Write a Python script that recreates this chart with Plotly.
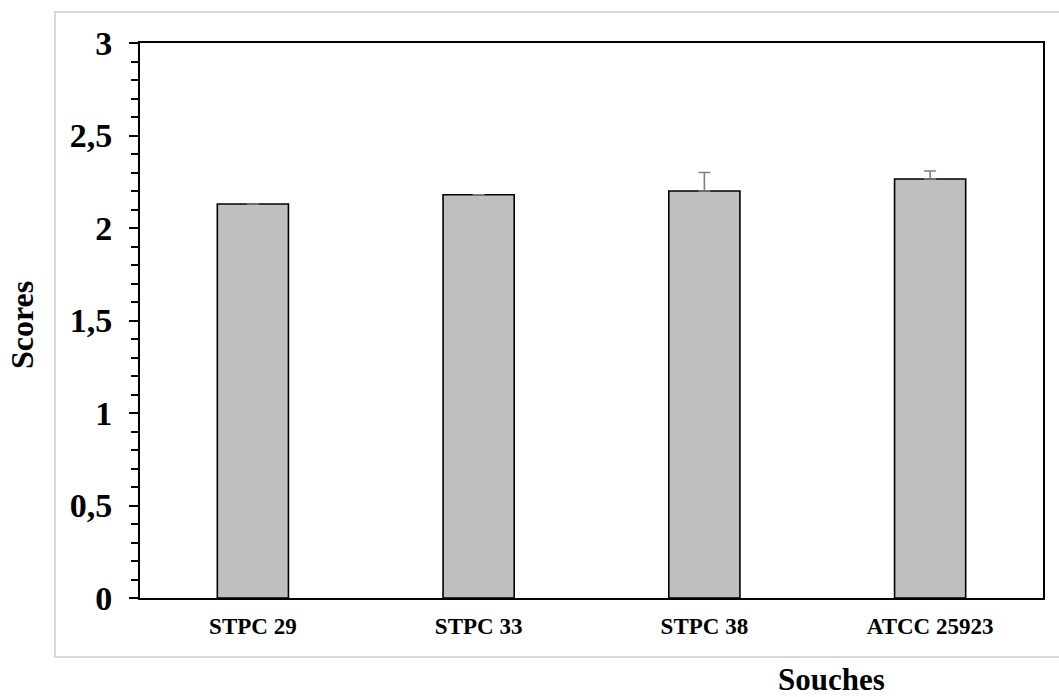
import plotly.graph_objects as go

categories = ["STPC 29", "STPC 33", "STPC 38", "ATCC 25923"]
scores = [2.13, 2.18, 2.20, 2.265]
errors_plus = [0.0, 0.0, 0.10, 0.043]
errors_minus = [0.0, 0.0, 0.0, 0.0]
ytick_vals = [0, 0.5, 1, 1.5, 2, 2.5, 3]
ytick_text = ["0", "0,5", "1", "1,5", "2", "2,5", "3"]

FONT = "Liberation Serif, Times New Roman, serif"

W, H = 1059, 697
L, R, T, B = 140, 16, 43, 99
pw, ph = W - L - R, H - T - B


def px(x):
    return (x - L) / pw


def py(y):
    return (H - B - y) / ph


fig = go.Figure()
fig.add_trace(go.Bar(
    x=categories,
    y=scores,
    marker=dict(color="#BFBFBF", line=dict(color="black", width=1.6)),
    error_y=dict(type="data", symmetric=False, array=errors_plus,
                 arrayminus=errors_minus, color="#7f7f7f", thickness=1.6, width=6),
))

fig.update_layout(
    width=W, height=H,
    margin=dict(l=L, r=R, t=T, b=B),
    plot_bgcolor="white", paper_bgcolor="white",
    bargap=0.685,
    showlegend=False,
    font=dict(family=FONT, color="black"),
    xaxis=dict(
        type="category", range=[-0.5, 3.5],
        showline=True, mirror=True, linecolor="black", linewidth=2,
        ticks="", showgrid=False, zeroline=False,
        tickfont=dict(family=FONT, size=23, weight="bold", color="black"),
        ticklabelstandoff=6,
    ),
    yaxis=dict(
        range=[0, 3], tickvals=ytick_vals, ticktext=ytick_text,
        showline=True, mirror=True, linecolor="black", linewidth=2,
        ticks="outside", ticklen=9, tickwidth=1.5, tickcolor="black",
        minor=dict(dtick=0.1, ticks="outside", ticklen=7, tickwidth=1.5, tickcolor="black", showgrid=False),
        showgrid=False, zeroline=False,
        tickfont=dict(family=FONT, size=34, weight="bold", color="black"),
        ticklabelstandoff=10,
    ),
    shapes=[dict(type="rect", xref="paper", yref="paper",
                 x0=px(55), x1=px(1064), y0=py(657), y1=py(12),
                 line=dict(color="#d9d9d9", width=2), fillcolor="rgba(0,0,0,0)", layer="below")],
    annotations=[
        dict(text="Scores", xref="paper", yref="paper", x=px(22), y=py(325),
             textangle=-90, showarrow=False, xanchor="center", yanchor="middle",
             font=dict(family=FONT, size=32, weight="bold", color="black")),
        dict(text="Souches", xref="paper", yref="paper", x=px(831), y=py(679),
             showarrow=False, xanchor="center", yanchor="middle",
             font=dict(family=FONT, size=31, weight="bold", color="black")),
    ],
)

fig.write_html("out.html")
